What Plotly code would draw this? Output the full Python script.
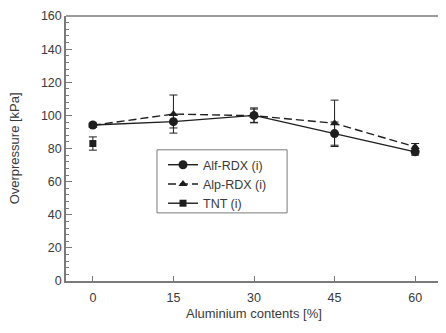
import plotly.graph_objects as go

al_content = [0, 15, 30, 45, 60]
alf_rdx = [94.2, 96.2, 100.0, 89.0, 78.0]
alf_err = [1.2, 3.8, 4.5, 7.0, 2.0]
alp_rdx = [94.0, 100.8, 99.8, 95.2, 81.0]
alp_err = [1.0, 11.5, 4.0, 14.0, 2.0]
tnt_x = [0]
tnt = [83.0]
tnt_err = [4.0]

x_ticks = [0, 15, 30, 45, 60]
y_ticks = [0, 20, 40, 60, 80, 100, 120, 140, 160]

line_col = "#1e1e1e"
axis_col = "#7a7a7a"
font_col = "#3a3a3a"

fig = go.Figure()
fig.add_trace(go.Scatter(
    x=al_content, y=alf_rdx, name="Alf-RDX (i)", mode="lines+markers",
    line=dict(color=line_col, width=1.4),
    marker=dict(symbol="circle", size=9, color=line_col),
    error_y=dict(type="data", array=alf_err, color=line_col, thickness=1, width=4),
))
fig.add_trace(go.Scatter(
    x=al_content, y=alp_rdx, name="Alp-RDX (i)", mode="lines+markers",
    line=dict(color=line_col, width=1.4, dash="8px,4px"),
    marker=dict(symbol="triangle-up", size=8, color=line_col),
    error_y=dict(type="data", array=alp_err, color=line_col, thickness=1, width=4),
))
fig.add_trace(go.Scatter(
    x=tnt_x, y=tnt, name="TNT (i)", mode="lines+markers",
    line=dict(color=line_col, width=1.4),
    marker=dict(symbol="square", size=7, color=line_col),
    error_y=dict(type="data", array=tnt_err, color=line_col, thickness=1, width=4),
))

fig.update_layout(
    width=446, height=333,
    margin=dict(l=58, r=12, t=8, b=60, autoexpand=False),
    paper_bgcolor="white", plot_bgcolor="white",
    font=dict(family="Liberation Sans, Arial, sans-serif", size=12.5, color=font_col),
    showlegend=True,
    legend=dict(
        x=0.258, y=0.494, xanchor="left", yanchor="top",
        bgcolor="rgba(0,0,0,0)", borderwidth=0,
        font=dict(size=12.5, color=font_col),
        tracegroupgap=0,
    ),
    xaxis=dict(
        range=[-5, 65], tickmode="array", tickvals=x_ticks,
        ticktext=[str(v) for v in x_ticks],
        ticks="inside", ticklen=5, tickcolor=axis_col,
        showline=True, linecolor=axis_col, linewidth=1.5,
        showgrid=False, zeroline=False, automargin=False,
        tickfont=dict(size=12.5), ticklabelstandoff=4,
    ),
    yaxis=dict(
        range=[0, 160], tickmode="array", tickvals=y_ticks,
        ticktext=[str(v) for v in y_ticks],
        ticks="inside", ticklen=6, tickcolor=axis_col,
        minor=dict(dtick=4, ticks="inside", ticklen=3, tickcolor=axis_col, showgrid=False),
        showline=True, linecolor=axis_col, linewidth=1.5,
        showgrid=False, zeroline=False, automargin=False,
        tickfont=dict(size=12.5),
    ),
    annotations=[
        dict(text="Aluminium contents [%]", xref="paper", yref="paper",
             x=0.5, y=-0.121, xanchor="center", yanchor="middle",
             showarrow=False, font=dict(size=13, color=font_col)),
        dict(text="Overpressure [kPa]", xref="paper", yref="paper",
             x=-0.136, y=0.5, xanchor="center", yanchor="middle", textangle=-90,
             showarrow=False, font=dict(size=13, color=font_col)),
    ],
    shapes=[
        dict(type="line", xref="paper", yref="paper", x0=0, x1=1, y0=1, y1=1,
             line=dict(color=axis_col, width=1.5)),
        dict(type="line", xref="paper", yref="paper", x0=1, x1=1, y0=0, y1=1,
             line=dict(color="#9a9a9a", width=1, dash="dot")),
        dict(type="rect", xref="paper", yref="paper", layer="above",
             x0=0.242, x1=0.588, y0=0.257, y1=0.495,
             fillcolor="white", line=dict(color=axis_col, width=1)),
    ],
)

fig.write_html("out.html")
